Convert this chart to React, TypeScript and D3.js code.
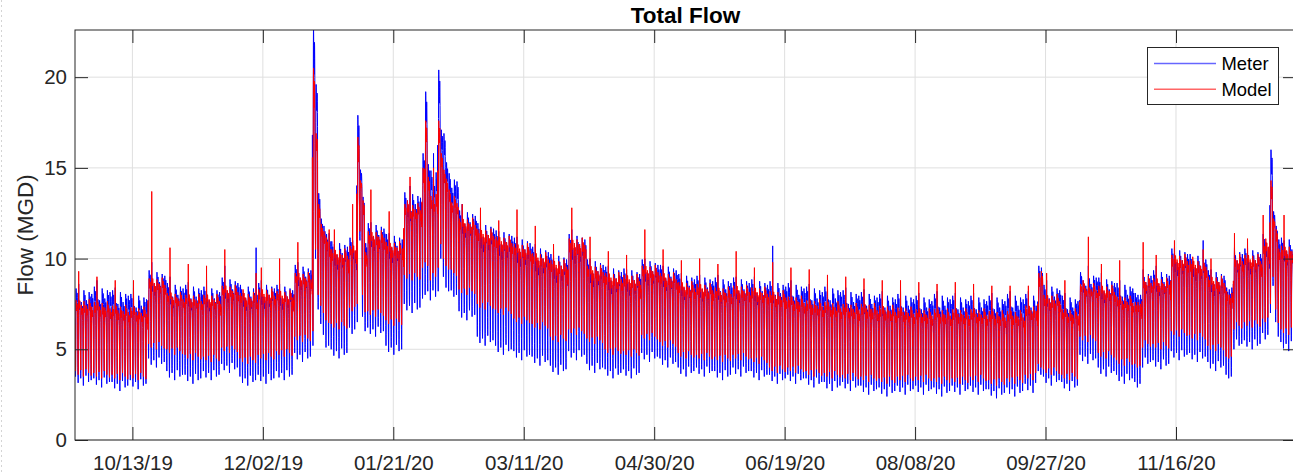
import React, { useEffect, useRef } from 'react';
import * as d3 from 'd3';

// weekly envelopes, weeks start on this date
const firstDay = '2019-09-21';
const lastDay = '2021-01-01';

const modelHigh = [7.6, 7.5, 7.3, 7.2, 8.8, 8.0, 7.9, 7.9, 8.4, 8.0, 8.2, 8.1, 9.1, 11.0, 10.4, 10.6, 11.4, 10.8, 12.9, 13.4, 13.3, 12.1, 11.5, 11.1, 10.7, 10.2, 9.8, 11.0, 9.5, 9.1, 9.0, 9.5, 9.1, 8.6, 8.5, 8.3, 8.4, 8.3, 8.1, 7.8, 7.6, 7.5, 7.4, 7.4, 7.3, 7.2, 7.1, 7.1, 7.1, 7.1, 7.0, 7.0, 7.3, 7.9, 7.1, 8.5, 8.4, 7.8, 8.9, 8.8, 10.1, 9.8, 8.9, 10.1, 10.1, 10.8, 10.6];
const modelLow = [3.7, 3.6, 3.5, 3.5, 5.2, 4.9, 4.6, 4.5, 5.0, 4.4, 4.6, 4.8, 5.6, 6.6, 6.3, 7.2, 7.0, 6.5, 9.0, 9.0, 9.2, 8.2, 7.4, 7.1, 6.6, 6.3, 5.6, 6.0, 5.5, 4.9, 4.8, 5.7, 5.3, 4.7, 4.6, 4.5, 4.6, 4.4, 3.9, 3.9, 3.7, 3.6, 3.5, 3.4, 3.3, 3.4, 3.4, 3.3, 3.3, 3.4, 3.2, 3.3, 3.5, 3.8, 3.5, 5.6, 4.7, 4.3, 5.3, 5.2, 5.9, 5.7, 5.1, 6.3, 6.4, 6.6, 6.0];
const meterHigh = [8.0, 8.1, 7.9, 7.7, 9.0, 8.3, 8.2, 8.1, 8.6, 8.2, 8.3, 8.2, 9.3, 11.2, 10.6, 10.8, 11.6, 11.0, 13.3, 14.6, 14.2, 12.3, 11.6, 11.2, 10.8, 10.3, 9.9, 11.0, 9.6, 9.2, 9.1, 9.6, 9.3, 8.8, 8.7, 8.6, 8.6, 8.5, 8.4, 8.3, 8.1, 8.1, 7.9, 7.8, 7.7, 7.7, 7.6, 7.7, 7.6, 7.6, 7.6, 7.7, 7.7, 8.2, 7.6, 8.9, 8.6, 8.3, 9.0, 9.0, 10.2, 9.9, 9.0, 10.2, 10.2, 11.0, 10.8];
const meterLow = [3.3, 3.2, 3.0, 3.1, 4.3, 3.6, 3.4, 3.6, 4.0, 3.3, 3.4, 3.6, 4.6, 5.2, 4.8, 6.0, 6.0, 5.0, 7.3, 8.0, 8.0, 6.9, 5.5, 5.0, 4.7, 4.4, 3.9, 4.7, 4.0, 3.7, 3.7, 4.6, 4.3, 3.8, 3.8, 3.6, 3.8, 3.6, 3.4, 3.4, 3.2, 3.0, 3.0, 2.8, 2.7, 2.8, 2.8, 2.7, 2.8, 2.8, 2.6, 2.7, 2.9, 3.3, 3.0, 4.5, 3.8, 3.4, 4.3, 4.2, 4.7, 4.6, 4.1, 5.3, 5.3, 5.7, 5.2];
const modelSpike = [9.3, 9.0, 8.8, 8.8, 13.7, 10.6, 9.7, 9.6, 10.5, 9.2, 9.5, 10.0, 10.9, 11.6, 11.6, 13.0, 13.8, 12.6, 14.5, 15.0, 14.5, 13.0, 12.8, 12.1, 12.7, 11.8, 10.8, 12.8, 11.2, 10.4, 10.2, 11.6, 10.5, 9.9, 10.0, 9.7, 10.4, 9.5, 9.8, 9.5, 9.4, 9.1, 9.0, 8.9, 8.8, 8.8, 8.7, 8.6, 8.7, 8.6, 8.5, 8.5, 8.5, 9.2, 8.8, 11.2, 9.7, 9.9, 10.9, 10.2, 11.0, 10.5, 10.0, 11.4, 11.1, 12.4, 12.4];
const meterSpike = [8.6, 8.8, 8.4, 8.4, 9.8, 9.0, 8.7, 8.8, 9.6, 10.6, 8.8, 8.6, 9.8, 11.4, 10.8, 11.0, 12.0, 11.4, 14.0, 15.8, 15.0, 13.0, 12.0, 11.5, 11.2, 10.8, 10.2, 11.6, 10.0, 9.6, 9.4, 10.0, 9.6, 9.2, 9.1, 9.1, 9.0, 9.0, 10.7, 8.8, 8.6, 8.6, 8.4, 8.3, 8.2, 8.2, 8.1, 8.2, 8.1, 8.1, 8.1, 8.2, 8.2, 8.8, 8.1, 9.6, 9.2, 8.8, 9.4, 9.6, 10.6, 11.0, 9.4, 10.6, 10.6, 11.2, 11.0];
const spikeDay = [1, 1, 1, 1, 1, 1, 1, 1, 1, 6, 1, 1, 1, 6, 1, 1, 1, 1, 2, 4, 1, 1, 1, 1, 1, 1, 1, 1, 1, 1, 1, 1, 1, 1, 1, 1, 1, 1, 1, 1, 1, 1, 1, 1, 1, 1, 1, 1, 1, 1, 1, 1, 1, 1, 1, 3, 1, 1, 3, 1, 1, 5, 1, 3, 1, 0, 1];

// storm days and other single days read separately
const eventDates = ['2019-12-21', '2019-12-22', '2019-12-23', '2019-12-24', '2019-12-25', '2020-01-07', '2020-01-08', '2020-01-09', '2020-02-01', '2020-02-02', '2020-02-03', '2020-02-07', '2020-02-08', '2020-02-09', '2020-02-10', '2020-02-11', '2020-09-24', '2020-09-25', '2020-10-31', '2020-11-01', '2020-11-02', '2020-12-05', '2020-12-06', '2020-12-07', '2020-12-22', '2020-12-23', '2020-12-24'];
const eventMeterHigh = [22.8, 19.6, 13.6, 12.2, 11.8, 17.9, 14.9, 13.4, 15.8, 19.2, 15.2, 20.4, 17.1, 16.9, 15.3, 14.7, 9.6, 9.5, 8.1, 8.0, 8.0, 8.4, 8.3, 8.4, 16.0, 12.6, 11.8];
const eventMeterLow = [5.2, 10.0, 7.2, 6.4, 5.8, 6.5, 11.0, 6.8, 7.8, 8.0, 8.2, 8.2, 10.0, 9.0, 8.4, 8.2, 3.8, 3.6, 3.2, 2.9, 3.1, 3.6, 3.4, 3.5, 7.0, 8.5, 6.5];
const eventModelHigh = [20.5, 16.9, 13.0, 11.9, 11.5, 16.7, 14.3, 13.2, 15.0, 17.6, 14.5, 17.6, 15.8, 14.9, 14.4, 13.8, 9.2, 9.3, 7.6, 7.6, 7.5, 8.2, 8.0, 8.1, 14.3, 12.2, 11.6];
const eventModelLow = [6.0, 10.5, 8.0, 7.4, 7.0, 7.5, 11.5, 8.0, 9.5, 9.8, 9.6, 9.5, 10.8, 10.0, 9.6, 9.4, 4.2, 4.0, 4.2, 4.0, 4.1, 4.6, 4.5, 4.6, 7.5, 9.0, 7.2];

// shape of one day (0 = night low, 1 = daily high), by hour
const diurnal = [0.66, 0.5, 0.33, 0.18, 0.06, 0.0, 0.1, 0.42, 0.78, 0.95, 1.0, 0.98, 0.94, 0.9, 0.87, 0.85, 0.85, 0.88, 0.92, 0.95, 0.94, 0.9, 0.84, 0.76];
// day-of-week offsets (MGD) on the highs and lows
const modelHighLift = [0.1, 0.3, -0.15, 0.05, -0.2, 0.15, -0.25];
const meterHighLift = [0.35, -0.1, -0.4, 0.25, -0.3, 0.15, 0.05];
const modelLowLift = [0.1, -0.1, 0.15, -0.2, 0.2, 0.0, -0.15];
const meterLowLift = [0.2, -0.15, 0.1, -0.3, 0.25, -0.1, 0.0];

const yTicks = [0, 5, 10, 15, 20];
const xTickLabels = ['10/13/19', '12/02/19', '01/21/20', '03/11/20', '04/30/20', '06/19/20', '08/08/20', '09/27/20', '11/16/20'];
const seriesNames = ['Meter', 'Model'];
const seriesColors = ['#0000ff', '#ff0000'];

type Pt = { t: Date; v: number };

export default function App() {
  const svgRef = useRef<SVGSVGElement>(null);
  const width = 1293;
  const height = 473;

  useEffect(() => {
    const svg = d3.select(svgRef.current);
    svg.selectAll('*').remove();

    const font = "'Liberation Sans', Arial, sans-serif";
    const ink = '#262626';
    const left = 75, right = 1296, top = 30, bottom = 440;

    const parseDay = d3.timeParse('%Y-%m-%d');
    const parseTick = d3.timeParse('%m/%d/%y');
    const fmtDay = d3.timeFormat('%Y-%m-%d');
    const start = parseDay(firstDay) as Date;
    const end = parseDay(lastDay) as Date;

    const x = d3.scaleTime().domain([start, end]).range([left, right]);
    const y = d3.scaleLinear().domain([0, 22.6]).range([bottom, top]);

    // build hourly series
    const events = new Map<string, number>();
    eventDates.forEach((d, i) => events.set(d, i));
    const nDays = d3.timeDay.count(start, end);
    const meter: Pt[] = [];
    const model: Pt[] = [];
    for (let d = 0; d < nDays; d++) {
      const day = d3.timeDay.offset(start, d);
      const w = Math.min(Math.floor(d / 7), modelHigh.length - 1);
      const wd = d % 7;
      const ev = events.get(fmtDay(day));
      const mHi = ev !== undefined ? eventMeterHigh[ev] : meterHigh[w] + meterHighLift[wd];
      const mLo = ev !== undefined ? eventMeterLow[ev] : meterLow[w] + meterLowLift[wd];
      const oHi = ev !== undefined ? eventModelHigh[ev] : modelHigh[w] + modelHighLift[wd];
      const oLo = ev !== undefined ? eventModelLow[ev] : modelLow[w] + modelLowLift[wd];
      const isSpike = ev === undefined && wd === spikeDay[w];
      diurnal.forEach((f, h) => {
        const t = d3.timeHour.offset(day, h);
        let mv = mLo + (mHi - mLo) * f;
        let ov = oLo + (oHi - oLo) * f;
        if (isSpike && h === 10) {
          mv = Math.max(mv, meterSpike[w]);
          ov = Math.max(ov, modelSpike[w]);
        }
        meter.push({ t, v: mv });
        model.push({ t, v: ov });
      });
    }

    svg.append('rect').attr('width', width).attr('height', height).attr('fill', '#fff');

    // faint dashed frame edge on the left
    svg.append('line')
      .attr('x1', 1.5).attr('x2', 1.5).attr('y1', 0).attr('y2', height)
      .style('stroke', '#d4d4d4')
      .style('stroke-dasharray', '2,3');

    const xTicks = xTickLabels.map(s => parseTick(s) as Date);

    // grid
    const grid = svg.append('g');
    grid.selectAll('.gx')
      .data(xTicks)
      .enter()
      .append('line')
      .attr('x1', d => x(d)).attr('x2', d => x(d))
      .attr('y1', top).attr('y2', bottom)
      .style('stroke', '#dfdfdf');
    grid.selectAll('.gy')
      .data(yTicks)
      .enter()
      .append('line')
      .attr('x1', left).attr('x2', right)
      .attr('y1', d => y(d)).attr('y2', d => y(d))
      .style('stroke', '#dfdfdf');

    // data lines
    svg.append('clipPath').attr('id', 'plot-clip')
      .append('rect')
      .attr('x', left).attr('y', top)
      .attr('width', right - left).attr('height', bottom - top);

    const line = d3.line<Pt>().x(d => x(d.t)).y(d => y(d.v));
    const plot = svg.append('g').attr('clip-path', 'url(#plot-clip)');
    [meter, model].forEach((series, i) => {
      plot.append('path')
        .datum(series)
        .attr('d', line)
        .style('fill', 'none')
        .style('stroke', seriesColors[i])
        .style('stroke-width', 1);
    });

    // axes, ticks pointing inward
    const styleAxis = (g: d3.Selection<SVGGElement, unknown, null, undefined>) => {
      g.select('.domain').remove();
      g.selectAll('.tick line').style('stroke', ink);
      g.selectAll('text')
        .style('font-family', font)
        .style('font-size', '20.5px')
        .style('fill', ink);
    };

    svg.append('g')
      .attr('transform', `translate(0,${bottom})`)
      .call(d3.axisBottom(x).tickValues(xTicks).tickSizeInner(-13).tickSizeOuter(0).tickPadding(15)
        .tickFormat(d => d3.timeFormat('%m/%d/%y')(d as Date)))
      .call(styleAxis);
    svg.append('g')
      .attr('transform', `translate(0,${top})`)
      .call(d3.axisTop(x).tickValues(xTicks).tickSizeInner(-13).tickSizeOuter(0).tickFormat(() => ''))
      .call(styleAxis);
    svg.append('g')
      .attr('transform', `translate(${left},0)`)
      .call(d3.axisLeft(y).tickValues(yTicks).tickSizeInner(-13).tickSizeOuter(0).tickPadding(8)
        .tickFormat(d => String(d)))
      .call(styleAxis);
    svg.append('g')
      .attr('transform', `translate(${right},0)`)
      .call(d3.axisRight(y).tickValues(yTicks).tickSizeInner(-13).tickSizeOuter(0).tickFormat(() => ''))
      .call(styleAxis);

    svg.append('rect')
      .attr('x', left).attr('y', top)
      .attr('width', right - left).attr('height', bottom - top)
      .style('fill', 'none')
      .style('stroke', ink)
      .style('stroke-width', 1);

    // title and label
    svg.append('text')
      .attr('x', (left + right) / 2)
      .attr('y', 23)
      .attr('text-anchor', 'middle')
      .style('font-family', font)
      .style('font-size', '22.5px')
      .style('font-weight', 'bold')
      .style('fill', '#000')
      .text('Total Flow');

    svg.append('text')
      .attr('transform', `translate(33,${(top + bottom) / 2}) rotate(-90)`)
      .attr('text-anchor', 'middle')
      .style('font-family', font)
      .style('font-size', '22.5px')
      .style('fill', ink)
      .text('Flow (MGD)');

    // legend
    const legend = svg.append('g').attr('transform', 'translate(1147.5,47.5)');
    legend.append('rect')
      .attr('width', 131).attr('height', 57)
      .style('fill', '#fff')
      .style('stroke', ink);
    seriesNames.forEach((name, i) => {
      const ly = 16 + i * 25.7;
      legend.append('line')
        .attr('x1', 6.5).attr('x2', 68.5)
        .attr('y1', ly).attr('y2', ly)
        .style('stroke', seriesColors[i])
        .style('stroke-opacity', 0.6)
        .style('stroke-width', 1.5);
      legend.append('text')
        .attr('x', 74)
        .attr('y', ly + 6.8)
        .style('font-family', font)
        .style('font-size', '18.4px')
        .style('fill', '#000')
        .text(name);
    });
  }, []);

  return (
    <svg
      ref={svgRef}
      width={width}
      height={height}
      style={{ position: 'absolute', left: 0, top: 0, display: 'block' }}
    />
  );
}
